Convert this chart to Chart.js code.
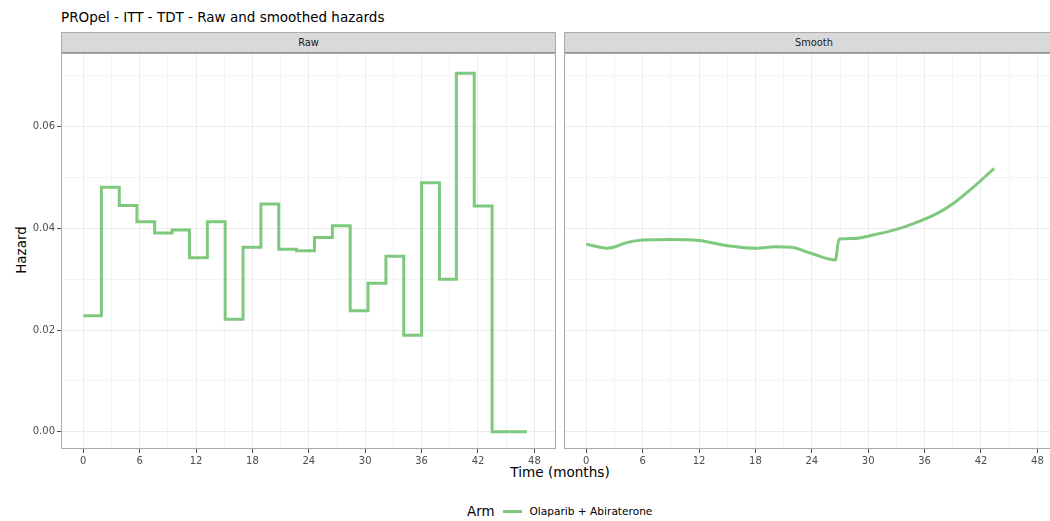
<!DOCTYPE html>
<html>
<head>
<meta charset="utf-8">
<script src="https://cdn.jsdelivr.net/npm/chart.js@4.4.1/dist/chart.umd.min.js"></script>
<style>
  html, body { margin:0; padding:0; background:#fff; width:1050px; height:521px; overflow:hidden;
               font-family:"DejaVu Sans", sans-serif; }
  .abs { position:absolute; }
  #title { left:61px; top:9px; font-size:13.5px; color:#000; white-space:nowrap; }
  .strip { top:32px; height:22px; box-sizing:border-box; background:#D9D9D9;
           border:1px solid #ABABAB; border-bottom:2px solid #8F8F8F;
           font-size:9.8px; color:#1A1A1A; text-align:center; line-height:19px; }
  #ytitle { left:21px; top:250px; font-size:13.5px; transform:translate(-50%,-50%) rotate(-90deg); white-space:nowrap; }
  #xtitle { left:560px; top:472px; font-size:13.6px; transform:translate(-50%,-50%); white-space:nowrap; }
  #legend { left:467px; top:503px; height:16px; display:flex; align-items:center; white-space:nowrap; }
  #legend .lt { font-size:13.4px; margin-right:9px; }
  #legend .key { width:19px; height:3px; background:#7FC97F; margin-right:7px; }
  #legend .lab { font-size:10.6px; }
</style>
</head>
<body>
<div id="title" class="abs">PROpel - ITT - TDT - Raw and smoothed hazards</div>
<div class="abs strip" style="left:61px;width:495px">Raw</div>
<div class="abs strip" style="left:564px;width:500px">Smooth</div>
<div id="ytitle" class="abs">Hazard</div>
<div id="xtitle" class="abs">Time (months)</div>
<div id="legend" class="abs"><span class="lt">Arm</span><span class="key"></span><span class="lab">Olaparib + Abiraterone</span></div>

<div class="abs" style="left:0;top:53px;width:560px;height:420px"><canvas id="cRaw"></canvas></div>
<div class="abs" style="left:562px;top:53px;width:497px;height:420px"><canvas id="cSmooth"></canvas></div>

<script>
// ── data ───────────────────────────────────────────────────────────────────
// raw hazard: interval start times (last entry = end of last interval)
const rawTime   = [0, 1.93, 3.83, 5.71, 7.6, 9.45, 11.3, 13.2, 15.1, 17.0, 18.9, 20.8, 22.7,
                   24.6, 26.5, 28.4, 30.3, 32.2, 34.1, 36.0, 37.9, 39.7, 41.6, 43.5, 45.3, 47.2];
const rawHazard = [0.0228, 0.0481, 0.0445, 0.0413, 0.0391, 0.0397, 0.0342, 0.0413, 0.0221, 0.0363,
                   0.0448, 0.0359, 0.0356, 0.0382, 0.0405, 0.0238, 0.0292, 0.0345, 0.0190, 0.0490,
                   0.0300, 0.0705, 0.0444, 0, 0];
// smoothed hazard
const smoothTime   = [0, 2.2, 3.1, 4.3, 6.1, 9.0, 12.0, 15.0, 18.2, 20.0, 21.8, 23.9, 26.5, 26.9,
                      28.5, 30.3, 32.8, 34.9, 37.4, 39.2, 41.0, 43.4];
const smoothHazard = [0.0369, 0.0361, 0.0364, 0.0372, 0.0377, 0.0378, 0.0376, 0.0366, 0.0361, 0.0364,
                      0.0363, 0.0351, 0.0338, 0.0379, 0.0380, 0.0386, 0.0397, 0.0410, 0.0430, 0.0451,
                      0.0478, 0.0518];
const xTicks = [0, 3, 6, 9, 12, 15, 18, 21, 24, 27, 30, 33, 36, 39, 42, 45, 48];
const yTicks = [0, 0.01, 0.02, 0.03, 0.04, 0.05, 0.06, 0.07];
const armLabel = "Olaparib + Abiraterone";

const C = { line:"#7FC97F", major:"#EBEBEB", minor:"#F4F4F4", border:"#ABABAB", tick:"#4D4D4D", text:"#4D4D4D" };
const X_RANGE = { min:-2.37, max:50.3 };
const Y_RANGE = { min:-0.0034, max:0.0745 };

const isMajorX = v => Math.round(v) % 6 === 0;
const isMajorY = v => Math.round(v * 100) % 2 === 0;

const panelBorder = {
  id:"panelBorder",
  afterDraw(chart){
    const { ctx, chartArea:a } = chart;
    ctx.save();
    ctx.strokeStyle = C.border; ctx.lineWidth = 1;
    ctx.strokeRect(a.left + 0.5, a.top + 0.5, a.width - 1, a.height - 1);
    ctx.restore();
  }
};

function xScale(){
  return {
    type:"linear", ...X_RANGE,
    afterBuildTicks(s){ s.ticks = xTicks.map(v => ({ value:v })); },
    afterFit(s){ s.height = 24; s.paddingLeft = 0; s.paddingRight = 0; },
    border:{ display:false },
    grid:{ color:c => isMajorX(c.tick.value) ? C.major : C.minor, lineWidth:1,
           tickLength:4, tickColor:c => isMajorX(c.tick.value) ? C.tick : "rgba(0,0,0,0)" },
    ticks:{ autoSkip:false, maxRotation:0, padding:2, color:C.text,
            font:{ family:"DejaVu Sans", size:10 },
            callback:v => isMajorX(v) ? String(v) : "" },
  };
}

function yScale(showLabels){
  return {
    type:"linear", ...Y_RANGE,
    afterBuildTicks(s){ s.ticks = yTicks.map(v => ({ value:v })); },
    afterFit(s){ s.width = showLabels ? 61 : 0; s.paddingTop = 0; s.paddingBottom = 0; },
    border:{ display:false },
    grid:{ color:c => isMajorY(c.tick.value) ? C.major : C.minor, lineWidth:1,
           drawTicks:showLabels, tickLength:4,
           tickColor:c => isMajorY(c.tick.value) ? C.tick : "rgba(0,0,0,0)" },
    ticks:{ display:showLabels, padding:2, color:C.text,
            font:{ family:"DejaVu Sans", size:10 },
            callback:v => isMajorY(v) ? v.toFixed(2) : "" },
  };
}

function panel(id, dataset, showY, padding){
  return new Chart(document.getElementById(id), {
    type:"line",
    data:{ datasets:[dataset] },
    options:{
      responsive:true, maintainAspectRatio:false, animation:false,
      layout:{ padding },
      plugins:{ legend:{ display:false }, tooltip:{ enabled:false } },
      scales:{ x:xScale(), y:yScale(showY) },
    },
    plugins:[panelBorder],
  });
}

const lineStyle = { borderColor:C.line, borderWidth:3, pointRadius:0, fill:false,
                    borderJoinStyle:"miter", borderCapStyle:"butt" };

// raw: step function, each point holds its value until the next start time
panel("cRaw", {
  label:armLabel, ...lineStyle, stepped:true,
  data:rawTime.map((t, i) => ({ x:t, y:rawHazard[Math.min(i, rawHazard.length - 1)] })),
}, true, { top:0, right:4, bottom:0, left:0 });

panel("cSmooth", {
  label:armLabel, ...lineStyle, cubicInterpolationMode:"monotone",
  data:smoothTime.map((t, i) => ({ x:t, y:smoothHazard[i] })),
}, false, { top:0, right:0, bottom:0, left:2 });
</script>
</body>
</html>
